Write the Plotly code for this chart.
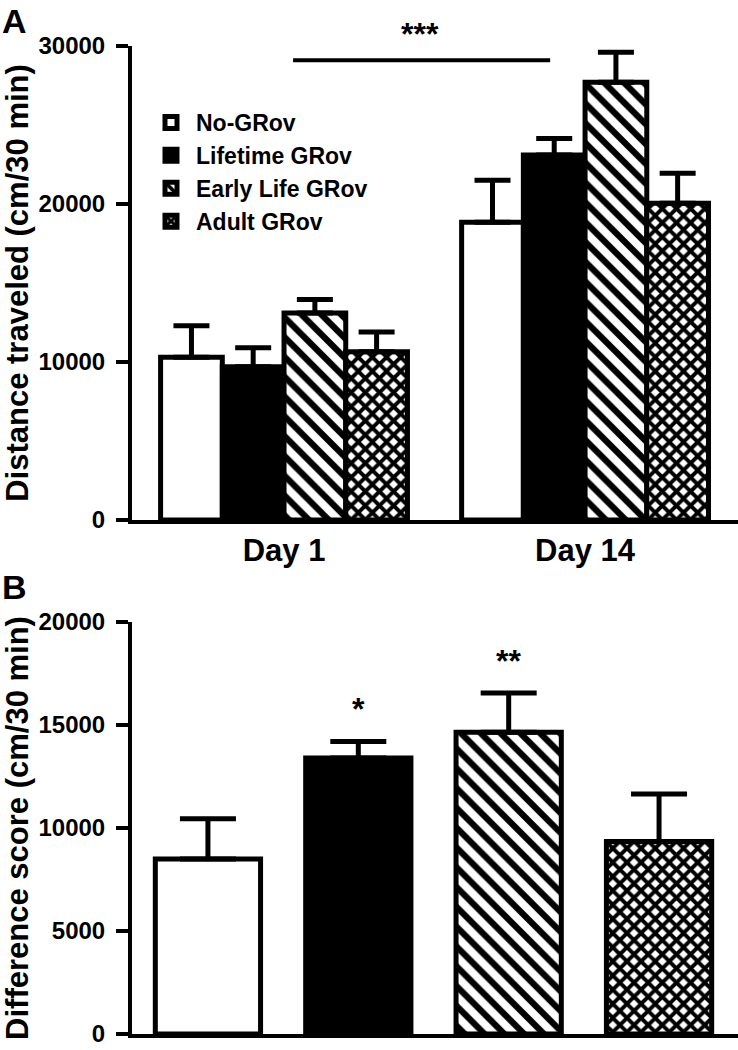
import plotly.graph_objects as go

# ---------------- data ----------------
groups = ["No-GRov", "Lifetime GRov", "Early Life GRov", "Adult GRov"]
days = ["Day 1", "Day 14"]

dist_mean = {
    "No-GRov": [10300, 18850],
    "Lifetime GRov": [9700, 23100],
    "Early Life GRov": [13100, 27700],
    "Adult GRov": [10650, 20050],
}
dist_sem = {
    "No-GRov": [2000, 2650],
    "Lifetime GRov": [1200, 1050],
    "Early Life GRov": [850, 1900],
    "Adult GRov": [1250, 1900],
}

diff_mean = [8500, 13400, 14650, 9350]
diff_sem = [1950, 800, 1900, 2300]
diff_sig = ["", "*", "**", ""]

ticks_a = [0, 10000, 20000, 30000]
ticks_b = [0, 5000, 10000, 15000, 20000]

# ---------------- styles ----------------
fills = {
    "No-GRov": dict(color="white", pattern=dict(shape="")),
    "Lifetime GRov": dict(color="black", pattern=dict(shape="")),
    "Early Life GRov": dict(color="white", pattern=dict(shape="\\", fgcolor="black", bgcolor="white",
                                                        fgopacity=1, size=14, solidity=0.45)),
    "Adult GRov": dict(color="white", pattern=dict(shape="x", fgcolor="black", bgcolor="white",
                                                   fgopacity=1, size=10, solidity=0.62)),
}
FONT = "Liberation Sans, Arial, sans-serif"
W, H = 738, 1050

fig = go.Figure()

# Panel A: grouped bars
for g in groups:
    f = fills[g]
    fig.add_trace(go.Bar(
        x=[0, 1], y=dist_mean[g], name=g,
        marker=dict(color=f["color"], pattern=f["pattern"], line=dict(color="black", width=5)),
        error_y=dict(type="data", array=dist_sem[g], arrayminus=[0, 0], symmetric=False,
                     color="black", thickness=5, width=18),
        xaxis="x", yaxis="y", showlegend=True,
    ))

# Panel B: difference scores (one bar per group)
for i, g in enumerate(groups):
    f = fills[g]
    fig.add_trace(go.Bar(
        x=[i], y=[diff_mean[i]], name=g, width=0.7, offset=-0.35,
        marker=dict(color=f["color"], pattern=f["pattern"], line=dict(color="black", width=5)),
        error_y=dict(type="data", array=[diff_sem[i]], arrayminus=[0], symmetric=False,
                     color="black", thickness=5, width=28),
        xaxis="x2", yaxis="y2", showlegend=False,
    ))

x0 = 132 / W
axis_common = dict(showgrid=False, zeroline=False, showline=True, linecolor="black", linewidth=4,
                   automargin=False)
ytick_common = dict(ticks="outside", ticklen=12, tickwidth=4, tickcolor="black",
                    tickfont=dict(size=24, weight="bold"), ticklabelstandoff=6,
                    ticklabeloverflow="allow")

fig.update_layout(
    width=W, height=H, margin=dict(l=0, r=0, t=0, b=0, autoexpand=False),
    paper_bgcolor="white", plot_bgcolor="white",
    barmode="group", bargap=0.18, bargroupgap=0,
    font=dict(family=FONT, color="black", weight="bold"),
    xaxis=dict(domain=[x0, 1], range=[-0.505, 1.508], tickvals=[0, 1], ticktext=days,
               ticks="", tickfont=dict(size=31, weight="bold"), anchor="y", **axis_common),
    yaxis=dict(domain=[1 - 520 / H, 1 - 46 / H], range=[0, 30000], tickvals=ticks_a,
               ticktext=[str(t) for t in ticks_a], anchor="x",
               title=dict(text="Distance traveled (cm/30 min)", font=dict(size=31, weight="bold"), standoff=2),
               **ytick_common, **axis_common),
    xaxis2=dict(domain=[x0, 1], range=[-0.505, 3.525], showticklabels=False, ticks="",
                anchor="y2", **axis_common),
    yaxis2=dict(domain=[1 - 1034 / H, 1 - 622 / H], range=[0, 20000], tickvals=ticks_b,
                ticktext=[str(t) for t in ticks_b], anchor="x2",
                title=dict(text="Difference score (cm/30 min)", font=dict(size=31, weight="bold"), standoff=2),
                **ytick_common, **axis_common),
    legend=dict(x=146 / W, y=1 - 101 / H, xanchor="left", yanchor="top",
                font=dict(size=23, weight="bold"), bgcolor="rgba(0,0,0,0)",
                tracegroupgap=0, itemwidth=40),
)

# significance bar in panel A
fig.add_shape(type="line", xref="x", yref="y", x0=0.03, x1=0.884, y0=29100, y1=29100,
              line=dict(color="black", width=4))
fig.add_annotation(xref="x", yref="y", x=0.452, y=29100, yshift=6, text="***", showarrow=False,
                   yanchor="bottom", font=dict(size=32, weight="bold"))

# significance stars in panel B
for i, s in enumerate(diff_sig):
    if s:
        fig.add_annotation(xref="x2", yref="y2", x=i, y=diff_mean[i] + diff_sem[i], yshift=12,
                           text=s, showarrow=False, yanchor="bottom", font=dict(size=32, weight="bold"))

# panel letters
fig.add_annotation(xref="paper", yref="paper", x=0 / W, y=1 - 0 / H, text="A", showarrow=False,
                   xanchor="left", yanchor="top", font=dict(size=34, weight="bold"))
fig.add_annotation(xref="paper", yref="paper", x=0 / W, y=1 - 566 / H, text="B", showarrow=False,
                   xanchor="left", yanchor="top", font=dict(size=34, weight="bold"))

fig.write_html("out.html", config={"displayModeBar": False},
               post_script="document.body.style.margin='0px';")
